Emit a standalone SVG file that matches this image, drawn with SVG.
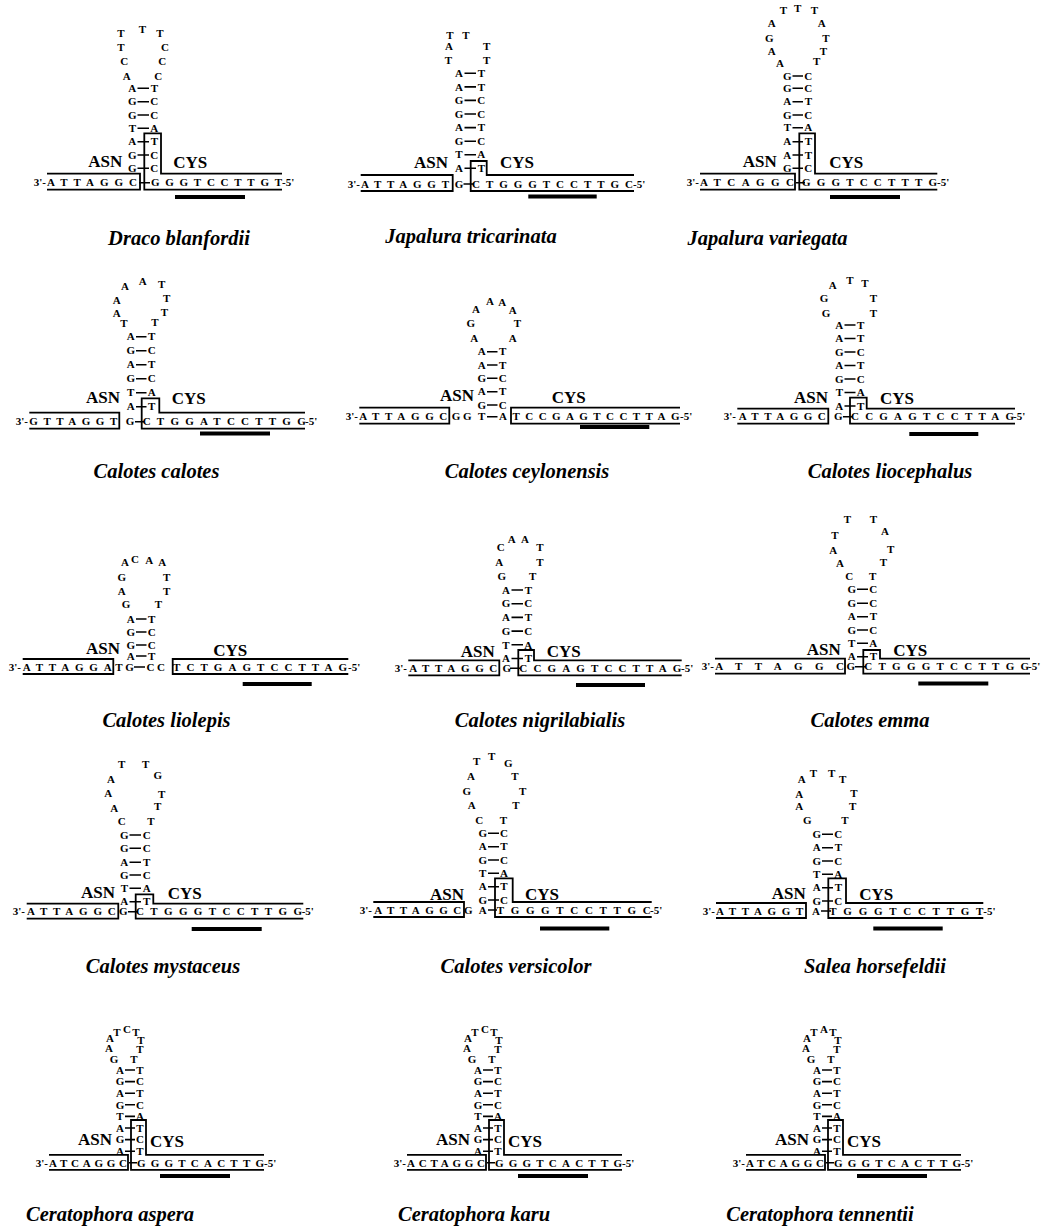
<svg xmlns="http://www.w3.org/2000/svg" width="1056" height="1228" viewBox="0 0 1056 1228">
<style>
.n{font-family:"Liberation Serif",serif;font-weight:bold;font-size:11px;text-anchor:middle;fill:#000}
.q{font-family:"Liberation Serif",serif;font-weight:bold;font-size:11px;fill:#000}
.e{font-family:"Liberation Serif",serif;font-weight:bold;font-size:11px;text-anchor:end;fill:#000}
.lbl{font-family:"Liberation Serif",serif;font-weight:bold;font-size:17px;fill:#000}
.sp{font-family:"Liberation Serif",serif;font-weight:bold;font-style:italic;font-size:20.5px;text-anchor:middle;fill:#000}
.d{stroke:#000;stroke-width:1.6;fill:none}
.bx{stroke:#000;stroke-width:1.8;fill:none}
</style>
<rect width="1056" height="1228" fill="#fff"/>
<g id="connectors">
<path class="d" d="M137.5 88.3H149M137.5 101.7H149M137.5 115H149M137.5 128.3H149M137.5 141.7H149M137.5 155H149M137.5 168.3H149M139 182.7H150"/>
<path class="d" d="M464.5 73.3H476M464.5 86.9H476M464.5 100.4H476M464.5 114H476M464.5 127.6H476M464.5 141.2H476M464.5 154.7H476M464.5 168.3H476M463.5 184H474"/>
<path class="d" d="M792.5 76H803M792.5 88.3H803M792.5 101.7H803M792.5 115H803M792.5 127.7H803M792.5 141.7H803M792.5 155H803M792.5 168.3H803M796 182.7H805"/>
<path class="d" d="M136 336.7H146.5M136 350.7H146.5M136 364.7H146.5M136 378.7H146.5M136 392.7H146.5M136 406.7H146.5M135 421.7H144"/>
<path class="d" d="M487 351.7H497.5M487 365H497.5M487 378.3H497.5M487 391.7H497.5M487 405H497.5M487 416.7H497.5"/>
<path class="d" d="M844.5 325H855.5M844.5 338.5H855.5M844.5 352H855.5M844.5 365.5H855.5M844.5 379H855.5M844.5 392.5H855.5M844.5 406H855.5M843 416.7H852"/>
<path class="d" d="M136 619H146.5M136 632H146.5M136 645H146.5M136 656H146.5M134 667H145"/>
<path class="d" d="M511.5 590H523M511.5 603.7H523M511.5 617.4H523M511.5 631.1H523M511.5 644.8H523M511.5 658.5H523M510 668.3H520"/>
<path class="d" d="M857 589.3H868M857 603.3H868M857 616.7H868M857 630H868M857 643.3H868M857 656.7H868M855 666.7H866"/>
<path class="d" d="M129.5 835H141M129.5 848.3H141M129.5 862.3H141M129.5 875H141M129.5 888.3H141M129.5 901.7H141M128 911.7H138"/>
<path class="d" d="M488 833.3H499M488 846.7H499M488 860H499M488 873.3H499M488 886.7H499M488 900H499M488 910H497"/>
<path class="d" d="M822 834.3H833M822 847.7H833M822 861H833M822 874.3H833M822 887.7H833M822 901H833M821 911H831"/>
<path class="d" d="M125 1070H135M125 1081.6H135M125 1093.2H135M125 1104.8H135M125 1116.4H135M125 1128H135M125 1139.6H135M125 1151.2H135M129 1162.8H137"/>
<path class="d" d="M483 1070H493M483 1081.6H493M483 1093.2H493M483 1104.8H493M483 1116.4H493M483 1128H493M483 1139.6H493M483 1151.2H493M487 1162.8H495"/>
<path class="d" d="M822 1070H832M822 1081.6H832M822 1093.2H832M822 1104.8H832M822 1116.4H832M822 1128H832M822 1139.6H832M822 1151.2H832M826 1162.8H834"/>
</g>

<g id="draco-blanfordii">
<text class="n" x="126.7 124.3 121 121 142.3 160 165 162.3 158.3" y="79.7 65.4 51.4 37 33 37 51.4 65.4 79.7">ACTTTTCCC</text>
<text class="n" x="132.3 132.3 132.3 132.3 132.3 132.3 132.3" y="92 105.4 118.7 132 145.4 158.7 172">AGGTAGG</text>
<text class="n" x="154.3 154.3 154.3 154.3 154.3 154.3 154.3" y="92 105.4 118.7 132 145.4 158.7 172">TCCATCC</text>
<text class="e" x="46" y="186.4">3'-</text>
<text class="q" x="47" y="186.4" textLength="90">ATTAGGC</text>
<text class="q" x="151" y="186.4" textLength="131">GGGTCCTTGT</text>
<text class="q" x="282" y="186.4">-5'</text>
<path class="bx" d="M47 173.7H140V189.7H47M282 173.7H161V133.3H144.3V189.7H282"/>
<rect x="175" y="195" width="70" height="4"/>
<text class="lbl" x="88.3" y="166.7">ASN</text>
<text class="lbl" x="173.3" y="167.7">CYS</text>
<text class="sp" x="179" y="245">Draco blanfordii</text>
</g>

<g id="japalura-tricarinata">
<text class="n" x="448.3 449 450 466 486.7 486.7" y="64.4 49.7 38.7 38.7 49.7 64.4">TATTTT</text>
<text class="n" x="459 459 459 459 459 459 459 459" y="77 90.6 104.1 117.7 131.3 144.9 158.4 172">AAGGAGTA</text>
<text class="n" x="481.3 481.3 481.3 481.3 481.3 481.3 481.3 481.3" y="77 90.6 104.1 117.7 131.3 144.9 158.4 172">TTCCTCAT</text>
<text class="e" x="360" y="187.7">3'-</text>
<text class="q" x="361" y="187.7" textLength="88">ATTAGGT</text>
<text class="n" x="459" y="187.7">G</text>
<text class="q" x="472" y="187.7" textLength="161">CTGGGTCCTTGC</text>
<text class="q" x="633" y="187.7">-5'</text>
<path class="bx" d="M360.7 175H452.7V191H360.7M634 175H486.7V161H470.7V191H634"/>
<rect x="528.3" y="194.5" width="68.4" height="4"/>
<text class="lbl" x="414" y="168.3">ASN</text>
<text class="lbl" x="500" y="168.3">CYS</text>
<text class="sp" x="471" y="243">Japalura tricarinata</text>
</g>

<g id="japalura-variegata">
<text class="n" x="780 771.7 769.3 771.7 783.3 797.7 814.3 821.7 826 823.3 816.7" y="67 55.4 42 27 13.7 12 13.7 27 42 55.4 65.4">AAGATTTATTT</text>
<text class="n" x="787.3 787.3 787.3 787.3 787.3 787.3 787.3 787.3" y="79.7 92 105.4 118.7 131.4 145.4 158.7 172">GGAGTAAG</text>
<text class="n" x="808.3 808.3 808.3 808.3 808.3 808.3 808.3 808.3" y="79.7 92 105.4 118.7 131.4 145.4 158.7 172">CCTCATTC</text>
<text class="e" x="699" y="186.4">3'-</text>
<text class="q" x="700" y="186.4" textLength="94">ATCAGGC</text>
<text class="q" x="802" y="186.4" textLength="135">GGGTCCTTTG</text>
<text class="q" x="937" y="186.4">-5'</text>
<path class="bx" d="M700 173.7H795V189.7H700M937.3 173.7H815V133.3H799.3V189.7H937.3"/>
<rect x="830" y="195" width="70" height="4"/>
<text class="lbl" x="742.7" y="166.7">ASN</text>
<text class="lbl" x="829.3" y="167.7">CYS</text>
<text class="sp" x="767.5" y="245">Japalura variegata</text>
</g>

<g id="calotes-calotes">
<text class="n" x="124 116.7 116.7 125 142.7 161.7 166.7 164.3 155" y="327 317 303.7 289.7 284.7 287.7 302 316.4 326.4">TAAAATTTT</text>
<text class="n" x="130.7 130.7 130.7 130.7 130.7 130.7" y="340.4 354.4 368.4 382.4 396.4 410.4">AGAGTA</text>
<text class="n" x="151.7 151.7 151.7 151.7 151.7 151.7" y="340.4 354.4 368.4 382.4 396.4 410.4">TCTCAT</text>
<text class="e" x="28" y="425.4">3'-</text>
<text class="q" x="29.3" y="425.4" textLength="88">GTTAGGT</text>
<text class="n" x="130" y="425.4">G</text>
<text class="q" x="142.7" y="425.4" textLength="163">CTGGATCCTTGG</text>
<text class="q" x="305" y="425.4">-5'</text>
<path class="bx" d="M29.3 412.7H119.3V428.7H29.3M305 412.7H159.3V398.3H141.7V428.7H305"/>
<rect x="200" y="431.5" width="70" height="4"/>
<text class="lbl" x="86" y="402.7">ASN</text>
<text class="lbl" x="171.7" y="404">CYS</text>
<text class="sp" x="156.5" y="478">Calotes calotes</text>
</g>

<g id="calotes-ceylonensis">
<text class="n" x="474.3 470.7 476 490 502.3 512.7 517.3 512.7" y="342 327 313 305.4 306.4 313.7 327 342">AGAAAATA</text>
<text class="n" x="481.7 481.7 481.7 481.7 481.7" y="355.4 368.7 382 395.4 408.7">AAGAG</text>
<text class="n" x="502.7 502.7 502.7 502.7 502.7" y="355.4 368.7 382 395.4 408.7">TTCTC</text>
<text class="e" x="358" y="420.4">3'-</text>
<text class="q" x="359.3" y="420.4" textLength="88">ATTAGGC</text>
<text class="n" x="456 467.3 481.7 503" y="420.4">GGTA</text>
<text class="q" x="512.5" y="420.4" textLength="167">TCCGAGTCCTTAG</text>
<text class="q" x="680" y="420.4">-5'</text>
<path class="bx" d="M359.3 407.7H449.3V423.7H359.3M680 407.7H511V423.7H680"/>
<rect x="580" y="425" width="69.3" height="4"/>
<text class="lbl" x="440" y="400.7">ASN</text>
<text class="lbl" x="551.7" y="403.3">CYS</text>
<text class="sp" x="527" y="478">Calotes ceylonensis</text>
</g>

<g id="calotes-liocephalus">
<text class="n" x="826 824 832.7 850 865 873.3 873.3" y="317 302 288.7 283.7 287 302 317">GGATTTT</text>
<text class="n" x="839.3 839.3 839.3 839.3 839.3 839.3 839.3" y="328.7 342.2 355.7 369.2 382.7 396.2 409.7">AAGAGTA</text>
<text class="n" x="860.7 860.7 860.7 860.7 860.7 860.7 860.7" y="328.7 342.2 355.7 369.2 382.7 396.2 409.7">TTCTCAT</text>
<text class="e" x="736" y="420.4">3'-</text>
<text class="q" x="738.7" y="420.4" textLength="87">ATTAGGC</text>
<text class="n" x="838.3" y="420.4">G</text>
<text class="q" x="851" y="420.4" textLength="163">CCGAGTCCTTAG</text>
<text class="q" x="1013" y="420.4">-5'</text>
<path class="bx" d="M737.3 408.7H828.3V423.7H737.3M1015 408.7H866.7V397.7H850V423.7H1015"/>
<rect x="909.3" y="432" width="69" height="4"/>
<text class="lbl" x="794" y="402.7">ASN</text>
<text class="lbl" x="880" y="404">CYS</text>
<text class="sp" x="890" y="478">Calotes liocephalus</text>
</g>

<g id="calotes-liolepis">
<text class="n" x="126 121.7 121.7 125 135 149.3 162.3 166.7 166.7 158.3" y="608 594.7 581.4 566.4 563 563.7 566.4 581.4 594.7 608">GAGACAATTT</text>
<text class="n" x="130.7 130.7 130.7 130.7" y="622.7 635.7 648.7 659.7">AGGA</text>
<text class="n" x="151.7 151.7 151.7 151.7" y="622.7 635.7 648.7 659.7">TCCT</text>
<text class="e" x="21" y="670.7">3'-</text>
<text class="q" x="22.7" y="670.7" textLength="89">ATTAGGA</text>
<text class="n" x="119 129.5 150.5 161" y="670.7">TGCC</text>
<text class="q" x="173" y="670.7" textLength="174">TCTGAGTCCTTAG</text>
<text class="q" x="348" y="670.7">-5'</text>
<path class="bx" d="M22.7 659H113.3V674H22.7M348.3 659H172.7V674H348.3"/>
<rect x="242.7" y="682" width="69" height="4"/>
<text class="lbl" x="86" y="654">ASN</text>
<text class="lbl" x="213.3" y="655.7">CYS</text>
<text class="sp" x="166.5" y="727">Calotes liolepis</text>
</g>

<g id="calotes-nigrilabialis">
<text class="n" x="501.7 499.3 500.7 511.7 525 540 540 532.7" y="579.7 566.4 551.4 543 543 551.4 566.4 579.7">GACAATTT</text>
<text class="n" x="506 506 506 506 506 506" y="593.7 607.4 621.1 634.8 648.5 662.2">AGAGTA</text>
<text class="n" x="528.3 528.3 528.3 528.3 528.3 528.3" y="593.7 607.4 621.1 634.8 648.5 662.2">TCTCAT</text>
<text class="e" x="407" y="672">3'-</text>
<text class="q" x="409.3" y="672" textLength="88">ATTAGGC</text>
<text class="n" x="506.7" y="672">G</text>
<text class="q" x="519.3" y="672" textLength="162">CCGAGTCCTTAG</text>
<text class="q" x="681" y="672">-5'</text>
<path class="bx" d="M408.3 660.3H499.3V675.3H408.3M681.7 660.3H534V650H518.3V675.3H681.7"/>
<rect x="576" y="683" width="69" height="4"/>
<text class="lbl" x="460.7" y="656.7">ASN</text>
<text class="lbl" x="546.7" y="656.7">CYS</text>
<text class="sp" x="540" y="727">Calotes nigrilabialis</text>
</g>

<g id="calotes-emma">
<text class="n" x="849.3 840 833.3 835 847.3 873.3 885 890.7 883.3 872.7" y="580.4 567 554.4 538.7 523 523 535.4 553 566.4 580.4">CAATTTATTT</text>
<text class="n" x="851.7 851.7 851.7 851.7 851.7 851.7" y="593 607 620.4 633.7 647 660.4">GGAGTA</text>
<text class="n" x="873.3 873.3 873.3 873.3 873.3 873.3" y="593 607 620.4 633.7 647 660.4">CCTCAT</text>
<text class="e" x="714" y="670.4">3'-</text>
<text class="q" x="715.3" y="670.4" textLength="128.7">ATTAGGC</text>
<text class="n" x="850.7" y="670.4">G</text>
<text class="q" x="864.3" y="670.4" textLength="164.7">CTGGGTCCTTGG</text>
<text class="q" x="1028" y="670.4">-5'</text>
<path class="bx" d="M715 658.7H845V673.7H715M1030 658.7H880V650H863.3V673.7H1030"/>
<rect x="918.3" y="681.5" width="70" height="4"/>
<text class="lbl" x="806.7" y="655">ASN</text>
<text class="lbl" x="893.3" y="655.7">CYS</text>
<text class="sp" x="870" y="727">Calotes emma</text>
</g>

<g id="calotes-mystaceus">
<text class="n" x="121.7 114.3 108.3 111 121.7 145.7 157.7 161.7 157.7 151" y="825.4 812 797 782.7 768 768 778.7 798 810.4 825.4">CAAATTGTTT</text>
<text class="n" x="124.3 124.3 124.3 124.3 124.3 124.3" y="838.7 852 866 878.7 892 905.4">GGAGTA</text>
<text class="n" x="146.7 146.7 146.7 146.7 146.7 146.7" y="838.7 852 866 878.7 892 905.4">CCTCAT</text>
<text class="e" x="25" y="915.4">3'-</text>
<text class="q" x="27" y="915.4" textLength="88.7">ATTAGGC</text>
<text class="n" x="123.3" y="915.4">G</text>
<text class="q" x="136" y="915.4" textLength="166">CTGGGTCCTTGG</text>
<text class="q" x="301.7" y="915.4">-5'</text>
<path class="bx" d="M26.7 903.7H118.3V918.7H26.7M303.3 903.7H153.3V894.3H135.7V918.7H303.3"/>
<rect x="191.7" y="927" width="70" height="4"/>
<text class="lbl" x="81" y="897.7">ASN</text>
<text class="lbl" x="167.7" y="899">CYS</text>
<text class="sp" x="163" y="973">Calotes mystaceus</text>
</g>

<g id="calotes-versicolor">
<text class="n" x="479.3 471.7 466.7 471 476.7 491.7 508.3 515 522.7 516 503.3" y="823.7 808.7 794.7 780.4 765.4 760.4 767 780.4 795.4 808.7 823.7">CAGATTGTTTT</text>
<text class="n" x="482.7 482.7 482.7 482.7 482.7 482.7" y="837 850.4 863.7 877 890.4 903.7">GAGTAG</text>
<text class="n" x="504 504 504 504 504 504" y="837 850.4 863.7 877 890.4 903.7">CTCATC</text>
<text class="e" x="372" y="913.7">3'-</text>
<text class="q" x="374.3" y="913.7" textLength="87">ATTAGGC</text>
<text class="n" x="468.3 482.7" y="913.7">GA</text>
<text class="q" x="496.7" y="913.7" textLength="154">TGGGTCCTTGC</text>
<text class="q" x="650" y="913.7">-5'</text>
<path class="bx" d="M373.3 902H464V917H373.3M651.7 902H512.7V878.3H495V917H651.7"/>
<rect x="540" y="926.5" width="69.3" height="4"/>
<text class="lbl" x="430" y="900">ASN</text>
<text class="lbl" x="525" y="900">CYS</text>
<text class="sp" x="516" y="973">Calotes versicolor</text>
</g>

<g id="salea-horsefeldii">
<text class="n" x="807.3 799.3 799.3 801.7 813.3 831.7 842.7 854 852.7 845" y="823.7 810.4 798 782.7 777 777 782.7 797 810.4 823.7">GAAATTTTTT</text>
<text class="n" x="816.7 816.7 816.7 816.7 816.7 816.7" y="838 851.4 864.7 878 891.4 904.7">GAGTAG</text>
<text class="n" x="838.3 838.3 838.3 838.3 838.3 838.3" y="838 851.4 864.7 878 891.4 904.7">CTCATC</text>
<text class="e" x="715" y="914.7">3'-</text>
<text class="q" x="716" y="914.7" textLength="87.3">ATTAGGT</text>
<text class="n" x="816" y="914.7">A</text>
<text class="q" x="829.3" y="914.7" textLength="154">TGGGTCCTTGT</text>
<text class="q" x="983.3" y="914.7">-5'</text>
<path class="bx" d="M716 903H806V918H716M983.3 903H846V878.3H828.3V918H983.3"/>
<rect x="873.3" y="926.5" width="69.4" height="4"/>
<text class="lbl" x="771.7" y="899">ASN</text>
<text class="lbl" x="859.3" y="900">CYS</text>
<text class="sp" x="875" y="973">Salea horsefeldii</text>
</g>

<g id="ceratophora-aspera">
<text class="n" x="114 109 110 117 127 136 141 140 134" y="1062.7 1051.7 1041.7 1035.7 1032.7 1035.7 1043.7 1052.7 1062.7">GAATCTTTT</text>
<text class="n" x="120 120 120 120 120 120 120 120" y="1073.7 1085.3 1096.9 1108.5 1120.1 1131.7 1143.3 1154.9">AGAGTAGA</text>
<text class="n" x="140 140 140 140 140 140 140 140" y="1073.7 1085.3 1096.9 1108.5 1120.1 1131.7 1143.3 1154.9">TCTCATCT</text>
<text class="e" x="48" y="1166.5">3'-</text>
<text class="q" x="49" y="1166.5" textLength="78">ATCAGGC</text>
<text class="q" x="137" y="1166.5" textLength="127">GGGTCACTTG</text>
<text class="q" x="264" y="1166.5">-5'</text>
<path class="bx" d="M49 1154.8H128V1169.8H49M264 1154.8H146V1120H131V1169.8H264"/>
<rect x="160" y="1174" width="70" height="4"/>
<text class="lbl" x="78" y="1145">ASN</text>
<text class="lbl" x="150" y="1147">CYS</text>
<text class="sp" x="110" y="1221">Ceratophora aspera</text>
</g>

<g id="ceratophora-karu">
<text class="n" x="472 467 468 475 485 494 499 498 492" y="1062.7 1051.7 1041.7 1035.7 1032.7 1035.7 1043.7 1052.7 1062.7">GAATCTTTT</text>
<text class="n" x="478 478 478 478 478 478 478 478" y="1073.7 1085.3 1096.9 1108.5 1120.1 1131.7 1143.3 1154.9">AGAGTAGA</text>
<text class="n" x="498 498 498 498 498 498 498 498" y="1073.7 1085.3 1096.9 1108.5 1120.1 1131.7 1143.3 1154.9">TCTCATCT</text>
<text class="e" x="406" y="1166.5">3'-</text>
<text class="q" x="407" y="1166.5" textLength="78">ACTAGGC</text>
<text class="q" x="495" y="1166.5" textLength="127">GGGTCACTTG</text>
<text class="q" x="622" y="1166.5">-5'</text>
<path class="bx" d="M407 1154.8H486V1169.8H407M622 1154.8H504V1120H489V1169.8H622"/>
<rect x="518" y="1174" width="70" height="4"/>
<text class="lbl" x="436" y="1145">ASN</text>
<text class="lbl" x="508" y="1147">CYS</text>
<text class="sp" x="474" y="1221">Ceratophora karu</text>
</g>

<g id="ceratophora-tennentii">
<text class="n" x="811 806 807 814 824 833 838 837 831" y="1062.7 1051.7 1041.7 1035.7 1032.7 1035.7 1043.7 1052.7 1062.7">GAATATTTT</text>
<text class="n" x="817 817 817 817 817 817 817 817" y="1073.7 1085.3 1096.9 1108.5 1120.1 1131.7 1143.3 1154.9">AGAGTAGA</text>
<text class="n" x="837 837 837 837 837 837 837 837" y="1073.7 1085.3 1096.9 1108.5 1120.1 1131.7 1143.3 1154.9">TCTCATCT</text>
<text class="e" x="745" y="1166.5">3'-</text>
<text class="q" x="746" y="1166.5" textLength="78">ATCAGGC</text>
<text class="q" x="834" y="1166.5" textLength="127">GGGTCACTTG</text>
<text class="q" x="961" y="1166.5">-5'</text>
<path class="bx" d="M746 1154.8H825V1169.8H746M961 1154.8H843V1120H828V1169.8H961"/>
<rect x="857" y="1174" width="70" height="4"/>
<text class="lbl" x="775" y="1145">ASN</text>
<text class="lbl" x="847" y="1147">CYS</text>
<text class="sp" x="820" y="1221">Ceratophora tennentii</text>
</g>
</svg>
